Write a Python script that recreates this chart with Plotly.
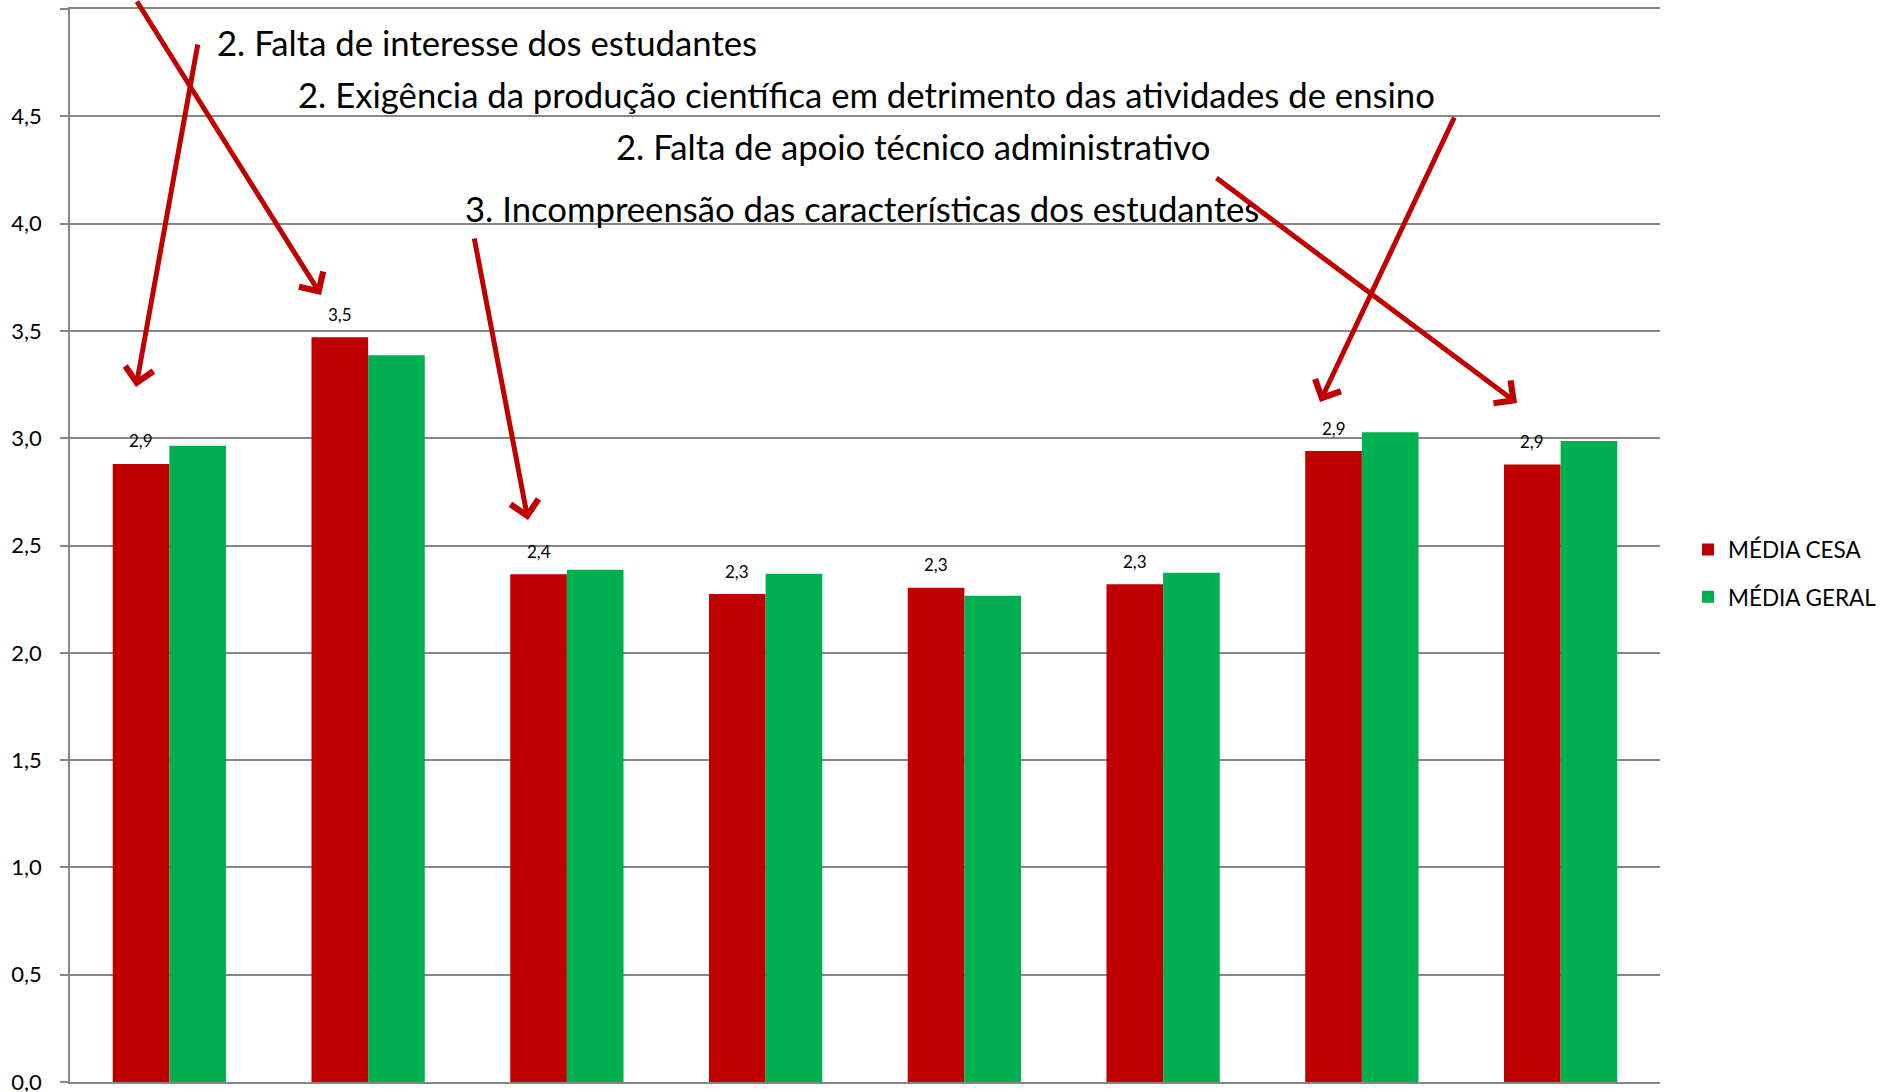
import plotly.graph_objects as go

categories = ["Item 1", "Item 2", "Item 3", "Item 4", "Item 5", "Item 6", "Item 7", "Item 8"]
media_cesa = [2.88, 3.47, 2.366, 2.274, 2.303, 2.319, 2.94, 2.878]
media_geral = [2.965, 3.386, 2.387, 2.368, 2.266, 2.373, 3.028, 2.987]
series_names = ["MÉDIA CESA", "MÉDIA GERAL"]
tick_values = [0, 0.5, 1, 1.5, 2, 2.5, 3, 3.5, 4, 4.5, 5]
tick_labels = ["0,0", "0,5", "1,0", "1,5", "2,0", "2,5", "3,0", "3,5", "4,0", "4,5", ""]

callout_texts = [
    "2. Falta de interesse dos estudantes",
    "2. Exigência da produção científica em detrimento das atividades de ensino",
    "2. Falta de apoio técnico administrativo",
    "3. Incompreensão das características dos estudantes",
]

RED = "#C00000"
GREEN = "#00B050"
GRID = "#868686"
FONT = "Lato"
BARGAP = 0.43

W, H = 1896, 1092
ML, MR, MT, MB = 70, 236, 9, 10
PW, PH = W - ML - MR, H - MT - MB


def px_to_paper(px, py):
    return (px - ML) / PW, (H - MB - py) / PH


fig = go.Figure()
fig.add_trace(go.Bar(x=categories, y=media_cesa, name=series_names[0],
                     marker=dict(color=RED, line=dict(width=0)), legendgroup="a"))
fig.add_trace(go.Bar(x=categories, y=media_geral, name=series_names[1],
                     marker=dict(color=GREEN, line=dict(width=0)), legendgroup="b"))

annotations = []
# data labels on the red bars
offset = (1 - BARGAP) / 4
for i, v in enumerate(media_cesa):
    annotations.append(dict(
        x=i - offset, y=v, xref="x", yref="y", yshift=23,
        text=f"{v:.1f}".replace(".", ","), showarrow=False,
        font=dict(family=FONT, size=17, color="#000000"),
        xanchor="center", yanchor="middle"))

# callout texts (pixel positions of left edge / vertical centre)
text_pos = [(215, 42), (296, 95), (614, 146), (463, 209)]
for t, (px, py) in zip(callout_texts, text_pos):
    xp, yp = px_to_paper(px, py)
    annotations.append(dict(
        x=xp, y=yp, xref="paper", yref="paper", text=t, showarrow=False,
        font=dict(family=FONT, size=34.7, color="#000000"),
        xanchor="left", yanchor="middle"))

# arrows: tip in pixel coords, tail offset in pixels
arrows = [
    ((321, 295), (-185, -305)),
    ((136, 387), (62, -344)),
    ((528, 520), (-54, -283)),
    ((1320, 402), (135, -286)),
    ((1517, 403), (-302, -226)),
]
for (tx, ty), (ax, ay) in arrows:
    xp, yp = px_to_paper(tx, ty)
    annotations.append(dict(
        x=xp, y=yp, xref="paper", yref="paper", text="", showarrow=True,
        ax=ax, ay=ay, axref="pixel", ayref="pixel",
        arrowhead=4, arrowsize=1.1, arrowwidth=5, arrowcolor=RED))

fig.update_layout(
    width=W, height=H,
    margin=dict(l=ML, r=MR, t=MT, b=MB, pad=0, autoexpand=False),
    paper_bgcolor="white", plot_bgcolor="white",
    barmode="group", bargap=BARGAP, bargroupgap=0,
    separators=",.",
    font=dict(family=FONT, color="#000000"),
    showlegend=True,
    legend=dict(x=(1688 - ML) / PW, y=0.474, xanchor="left", yanchor="middle",
                font=dict(family=FONT, size=22.5, color="#000000"),
                traceorder="grouped", tracegroupgap=15,
                bgcolor="rgba(0,0,0,0)"),
    annotations=annotations,
)
fig.update_xaxes(showticklabels=False, ticks="", showgrid=False, automargin=False,
                 showline=True, mirror=True, linecolor=GRID, linewidth=1.5, zeroline=False)
fig.update_yaxes(range=[0, 5], tickmode="array", tickvals=tick_values, ticktext=tick_labels,
                 showgrid=True, gridcolor=GRID, gridwidth=1.5, automargin=False,
                 showline=True, linecolor=GRID, linewidth=1.5,
                 ticks="outside", ticklen=8, tickcolor=GRID, tickwidth=1.5,
                 ticklabelstandoff=14, ticklabeloverflow="allow",
                 tickfont=dict(family=FONT, size=22, color="#000000"),
                 zeroline=False)

fig.write_html("out.html", config={"displayModeBar": False},
               post_script="document.body.style.margin='0';document.body.style.overflow='hidden';")
